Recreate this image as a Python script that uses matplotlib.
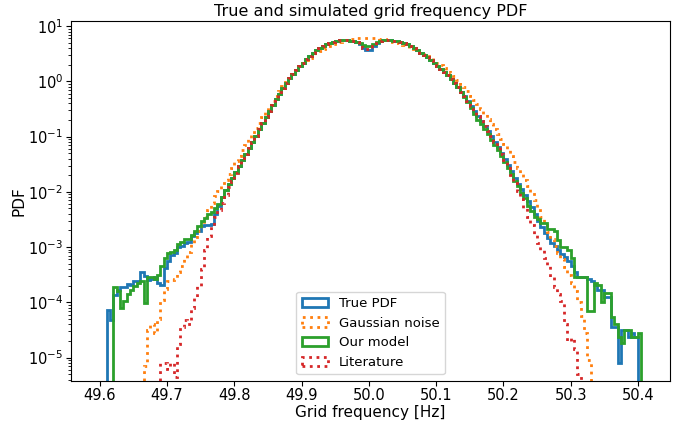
import numpy as np
import matplotlib
matplotlib.use("Agg")
import matplotlib.pyplot as plt

# bin edges of the histograms (0.005 Hz wide)
bin_edges = np.round(np.arange(49.600, 50.4201, 0.005), 3)

# log10 of the PDF per bin; each series starts at its own bin
true_start = 2
true_log = [
    -4.14, -4.32, -3.86, -3.78, -3.72, -3.72, -3.66, -3.68, -3.62, -3.62,
    -3.46, -3.52, -3.60, -3.58, -3.55, -3.65, -3.68, -3.38, -3.25, -3.15,
    -3.10, -3.00, -2.98, -2.92, -2.90, -2.80, -2.74, -2.70, -2.62, -2.60,
    -2.60, -2.58, -2.40, -2.25, -2.10, -1.97, -1.86, -1.75, -1.64, -1.53,
    -1.42, -1.31, -1.20, -1.09, -0.98, -0.87, -0.76, -0.65, -0.54, -0.43,
    -0.32, -0.22, -0.12, -0.03, 0.06, 0.14, 0.21, 0.28, 0.34, 0.40,
    0.46, 0.51, 0.56, 0.60, 0.64, 0.67, 0.70, 0.72, 0.74, 0.75,
    0.75, 0.75, 0.74, 0.73, 0.71, 0.68, 0.60, 0.57, 0.57, 0.64,
    0.70, 0.73, 0.75, 0.75, 0.75, 0.74, 0.73, 0.72, 0.70, 0.67,
    0.64, 0.60, 0.56, 0.52, 0.48, 0.44, 0.38, 0.33, 0.28, 0.23,
    0.17, 0.11, 0.05, -0.03, -0.11, -0.19, -0.27, -0.35, -0.44, -0.53,
    -0.62, -0.71, -0.80, -0.89, -0.99, -1.09, -1.19, -1.30, -1.41, -1.52,
    -1.63, -1.74, -1.85, -1.95, -2.05, -2.16, -2.28, -2.40, -2.52, -2.64,
    -2.74, -2.84, -2.92, -2.98, -3.05, -3.12, -3.18, -3.25, -3.35, -3.45,
    -3.54, -3.54, -3.55, -3.57, -3.62, -3.68, -3.77, -3.77, -3.90, -3.90,
    -4.44, -4.44, -5.10, -4.50, -4.50, -4.62, -4.55, -4.62,
]

gauss_start = 13
gauss_log = [
    -5.15, -4.50, -4.40, -4.55, -4.30, -3.95, -3.75, -3.62, -3.60, -3.58,
    -3.45, -3.35, -3.20, -3.08, -2.95, -2.82, -2.70, -2.58, -2.46, -2.33,
    -2.20, -2.08, -1.98, -1.88, -1.78, -1.67, -1.56, -1.45, -1.35, -1.25,
    -1.15, -1.05, -0.95, -0.85, -0.75, -0.65, -0.55, -0.45, -0.36, -0.27,
    -0.18, -0.09, -0.01, 0.07, 0.14, 0.21, 0.27, 0.33, 0.38, 0.43,
    0.47, 0.51, 0.55, 0.58, 0.61, 0.64, 0.67, 0.69, 0.71, 0.73,
    0.75, 0.76, 0.77, 0.78, 0.79, 0.79, 0.79, 0.79, 0.79, 0.78,
    0.77, 0.76, 0.75, 0.74, 0.72, 0.70, 0.68, 0.66, 0.64, 0.61,
    0.58, 0.55, 0.52, 0.49, 0.46, 0.42, 0.38, 0.34, 0.30, 0.25,
    0.20, 0.15, 0.09, 0.03, -0.04, -0.11, -0.18, -0.26, -0.33, -0.41,
    -0.50, -0.59, -0.68, -0.77, -0.86, -0.95, -1.04, -1.14, -1.24, -1.35,
    -1.46, -1.57, -1.68, -1.79, -1.90, -2.01, -2.14, -2.30, -2.45, -2.60,
    -2.72, -2.85, -2.98, -3.10, -3.22, -3.36, -3.50, -3.65, -3.80, -4.00,
    -4.25, -4.55, -5.05,
]

model_start = 4
model_log = [
    -3.72, -3.80, -4.10, -3.98, -3.85, -3.78, -3.70, -3.65, -3.62, -4.02,
    -3.55, -3.55, -3.58, -3.50, -3.35, -3.20, -3.10, -3.08, -3.05, -2.95,
    -2.90, -2.85, -2.85, -2.78, -2.70, -2.62, -2.52, -2.48, -2.40, -2.36,
    -2.30, -2.22, -2.10, -1.97, -1.86, -1.75, -1.64, -1.53, -1.42, -1.31,
    -1.20, -1.09, -0.98, -0.87, -0.76, -0.65, -0.54, -0.43, -0.32, -0.22,
    -0.12, -0.03, 0.06, 0.14, 0.21, 0.28, 0.34, 0.40, 0.46, 0.51,
    0.56, 0.60, 0.64, 0.67, 0.70, 0.72, 0.74, 0.75, 0.75, 0.75,
    0.74, 0.73, 0.71, 0.69, 0.66, 0.64, 0.64, 0.67, 0.71, 0.73,
    0.75, 0.75, 0.75, 0.74, 0.73, 0.72, 0.70, 0.67, 0.64, 0.60,
    0.56, 0.52, 0.48, 0.44, 0.38, 0.33, 0.28, 0.23, 0.17, 0.11,
    0.05, -0.03, -0.11, -0.20, -0.29, -0.38, -0.49, -0.59, -0.69, -0.78,
    -0.87, -0.96, -1.06, -1.15, -1.25, -1.35, -1.46, -1.56, -1.68, -1.80,
    -1.90, -2.02, -2.12, -2.25, -2.35, -2.45, -2.50, -2.56, -2.56, -2.67,
    -2.67, -2.70, -2.87, -3.00, -3.00, -3.05, -3.20, -3.54, -3.54, -3.54,
    -3.54, -4.15, -4.15, -3.65, -3.68, -4.00, -3.83, -3.83, -4.26, -4.40,
    -4.62, -4.73, -4.50, -4.50, -4.62, -4.62, -4.55,
]

lit_start = 18
lit_log = [
    -5.10, -5.10, -5.20, -5.10, -5.35, -4.75, -4.45, -4.32, -4.40, -4.10,
    -3.90, -3.70, -3.40, -3.05, -2.80, -2.62, -2.45, -2.32, -2.20, -2.06,
    -1.92, -1.80, -1.66, -1.54, -1.42, -1.31, -1.20, -1.09, -0.98, -0.87,
    -0.76, -0.65, -0.54, -0.43, -0.32, -0.22, -0.12, -0.03, 0.06, 0.14,
    0.21, 0.28, 0.34, 0.40, 0.46, 0.51, 0.56, 0.60, 0.64, 0.67,
    0.70, 0.72, 0.74, 0.75, 0.75, 0.75, 0.74, 0.73, 0.71, 0.68,
    0.60, 0.58, 0.58, 0.64, 0.70, 0.73, 0.75, 0.75, 0.75, 0.74,
    0.73, 0.72, 0.70, 0.67, 0.64, 0.60, 0.56, 0.52, 0.48, 0.44,
    0.38, 0.33, 0.28, 0.23, 0.17, 0.11, 0.05, -0.03, -0.11, -0.19,
    -0.27, -0.35, -0.44, -0.53, -0.62, -0.71, -0.80, -0.89, -0.99, -1.09,
    -1.19, -1.31, -1.43, -1.56, -1.70, -1.84, -1.98, -2.13, -2.30, -2.45,
    -2.60, -2.76, -2.92, -3.06, -3.20, -3.32, -3.55, -3.72, -3.85, -3.98,
    -4.40, -4.70, -4.65, -4.85, -5.30,
]

series = [
    ("True PDF", true_start, true_log, "tab:blue", "-"),
    ("Gaussian noise", gauss_start, gauss_log, "tab:orange", ":"),
    ("Our model", model_start, model_log, "tab:green", "-"),
    ("Literature", lit_start, lit_log, "tab:red", ":"),
]

fig = plt.figure(figsize=(6.88, 4.24), dpi=100)
ax = fig.add_axes([0.103, 0.102, 0.871, 0.848])

for name, start, logs, color, ls in series:
    edges = bin_edges[start:start + len(logs) + 1]
    centers = (edges[:-1] + edges[1:]) / 2
    ax.hist(centers, bins=edges, weights=10 ** np.array(logs), histtype="step",
            log=True, color=color, linestyle=ls, linewidth=2, label=name)

ax.set_xlim(49.557, 50.448)
ax.set_ylim(10 ** -5.42, 10 ** 1.09)
ax.set_xticks([49.6, 49.7, 49.8, 49.9, 50.0, 50.1, 50.2, 50.3, 50.4])
ax.set_xticklabels(["49.6", "49.7", "49.8", "49.9", "50.0", "50.1", "50.2", "50.3", "50.4"])
ax.tick_params(labelsize=10.5, pad=2)
ax.set_xlabel("Grid frequency [Hz]", fontsize=11, labelpad=1)
ax.set_ylabel("PDF", fontsize=11, labelpad=1)
ax.set_title("True and simulated grid frequency PDF", fontsize=11.5, pad=4)
ax.legend(loc="lower center", fontsize=9.5)

fig.savefig("out.png", dpi=100)
